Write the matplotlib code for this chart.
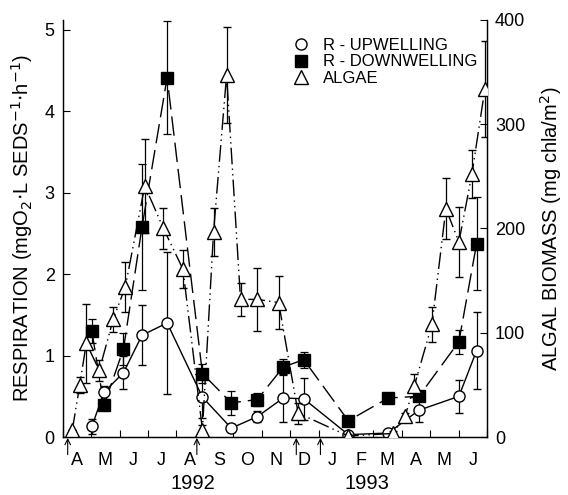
import numpy as np
import matplotlib
matplotlib.use('Agg')
import matplotlib.pyplot as plt
import matplotlib.dates as mdates
from matplotlib.lines import Line2D
from matplotlib.transforms import blended_transform_factory

plt.rcParams['font.family'] = ['Liberation Sans', 'DejaVu Sans']

# respiration, sediment upwelling / downwelling zones (left axis)
fechas_r = ['1992-05-02', '1992-05-15', '1992-06-05', '1992-06-25', '1992-07-22',
            '1992-08-29', '1992-09-29', '1992-10-27', '1992-11-24', '1992-12-16',
            '1993-02-02', '1993-03-17', '1993-04-19', '1993-06-01', '1993-06-20']
r_up = [0.13, 0.55, 0.79, 1.25, 1.40, 0.49, 0.11, 0.25, 0.48, 0.47,
        0.03, 0.05, 0.33, 0.50, 1.06]
r_up_err = [0.09, 0.08, 0.20, 0.37, 0.87, 0.25, 0.05, 0.07, 0.30, 0.26,
            0.03, 0.03, 0.15, 0.20, 0.47]
r_down = [1.30, 0.39, 1.08, 2.58, 4.41, 0.78, 0.42, 0.46, 0.86, 0.95,
          0.20, 0.48, 0.50, 1.17, 2.37]
r_down_err = [0.15, 0.06, 0.20, 0.77, 0.69, 0.12, 0.15, 0.08, 0.10, 0.10,
              0.05, 0.05, 0.05, 0.15, 0.57]

# algal biomass (right axis)
fechas_a = ['1992-04-11', '1992-04-19', '1992-04-26', '1992-05-10', '1992-05-25',
            '1992-06-07', '1992-06-28', '1992-07-18', '1992-08-08', '1992-08-29',
            '1992-09-10', '1992-09-24', '1992-10-09', '1992-10-27', '1992-11-19',
            '1992-12-10', '1993-02-02', '1993-03-22', '1993-04-04', '1993-04-14',
            '1993-05-03', '1993-05-18', '1993-06-01', '1993-06-15', '1993-06-29']
algas = [7, 50, 90, 64, 113, 144, 241, 200, 161, 7,
         197, 347, 132, 132, 129, 23, 1, 3.5, 20, 49,
         108, 219, 187, 252, 334]
algas_err = [0, 8, 38, 10, 12, 24, 45, 20, 18, 5,
             23, 46, 16, 30, 25, 10, 2, 2, 3, 11,
             17, 29, 34, 23, 46]

# flood events (arrows under the axis)
crecidas = ['1992-04-06', '1992-08-23', '1992-12-08', '1993-01-03']


def fechas(lista):
    return mdates.datestr2num(lista)


fr = fechas(fechas_r)
fa = fechas(fechas_a)

fig = plt.figure(figsize=(5.68, 4.95), dpi=100)
ax1 = fig.add_axes([0.111, 0.117, 0.746, 0.843])
ax2 = ax1.twinx()

ax1.errorbar(fr, r_up, yerr=r_up_err, fmt='-o', color='black', lw=1.0,
             ms=8, mfc='white', mec='black', mew=1.0, elinewidth=0.9,
             capsize=3, capthick=0.9, zorder=3)
ax1.errorbar(fr, r_down, yerr=r_down_err, fmt='s', color='black', lw=1.0,
             ms=8, mfc='black', mec='black', elinewidth=0.9,
             capsize=3, capthick=0.9, zorder=3)
ax1.plot(fr, r_down, color='black', lw=1.0, dashes=(14, 5), zorder=2)

ax2.errorbar(fa, algas, yerr=algas_err, fmt='^', color='black',
             ms=9.5, mfc='white', mec='black', mew=1.0, elinewidth=0.9,
             capsize=3, capthick=0.9, zorder=3)
ax2.plot(fa, algas, color='black', lw=1.0, dashes=(12, 3, 1, 3, 1, 3), zorder=2)

ax1.set_xlim(fechas(['1992-04-01', '1993-07-01']))
ax1.set_ylim(0, 5.12)
ax2.set_ylim(0, 400)

ax1.xaxis.set_major_locator(mdates.MonthLocator())
ax1.xaxis.set_major_formatter(plt.NullFormatter())
ax1.xaxis.set_minor_locator(mdates.MonthLocator(bymonthday=16))
ax1.xaxis.set_minor_formatter(plt.FuncFormatter(
    lambda v, p: mdates.num2date(v).strftime('%b')[0]))

ax1.set_yticks([0, 1, 2, 3, 4, 5])
ax2.set_yticks([0, 100, 200, 300, 400])

ax1.tick_params(axis='x', which='major', direction='in', length=5, width=0.8)
ax1.tick_params(axis='x', which='minor', length=0, pad=11, labelsize=13)
ax1.tick_params(axis='y', direction='in', length=5, width=0.8, labelsize=13, pad=6)
ax2.tick_params(axis='y', direction='in', length=5, width=0.8, labelsize=13, pad=6)

for a in (ax1, ax2):
    a.spines['top'].set_visible(False)
    for s in ('left', 'right', 'bottom'):
        a.spines[s].set_linewidth(0.9)

ax1.set_ylabel('RESPIRATION (mgO$_2$$\\cdot$L SEDS$^{-1}$$\\cdot$h$^{-1}$)', fontsize=14.5, labelpad=7)
ax2.set_ylabel('ALGAL BIOMASS (mg chla/m$^2$)', fontsize=14.5, labelpad=9)

trans = blended_transform_factory(ax1.transData, ax1.transAxes)
for xd in fechas(crecidas):
    ax1.annotate('', xy=(xd, -0.002), xytext=(xd, -0.042), xycoords=trans,
                 textcoords=trans,
                 arrowprops=dict(arrowstyle='->', lw=0.8, color='black',
                                 shrinkA=0, shrinkB=0), annotation_clip=False)

anios = ['1992', '1993']
pos_anios = fechas(['1992-08-19', '1993-02-22'])
for xd, t in zip(pos_anios, anios):
    ax1.text(xd, -0.112, t, transform=trans, ha='center', va='center', fontsize=14.5)

handles = [Line2D([], [], ls='none', marker='o', ms=8, mfc='white', mec='black'),
           Line2D([], [], ls='none', marker='s', ms=8, mfc='black', mec='black'),
           Line2D([], [], ls='none', marker='^', ms=9.5, mfc='white', mec='black')]
ax2.legend(handles, ['R - UPWELLING', 'R - DOWNWELLING', 'ALGAE'],
           loc='upper left', bbox_to_anchor=(0.515, 0.985), frameon=False,
           fontsize=12, handlelength=1.0, handletextpad=0.8, labelspacing=0.1,
           borderpad=0.2)

plt.savefig('out.png', dpi=100)
